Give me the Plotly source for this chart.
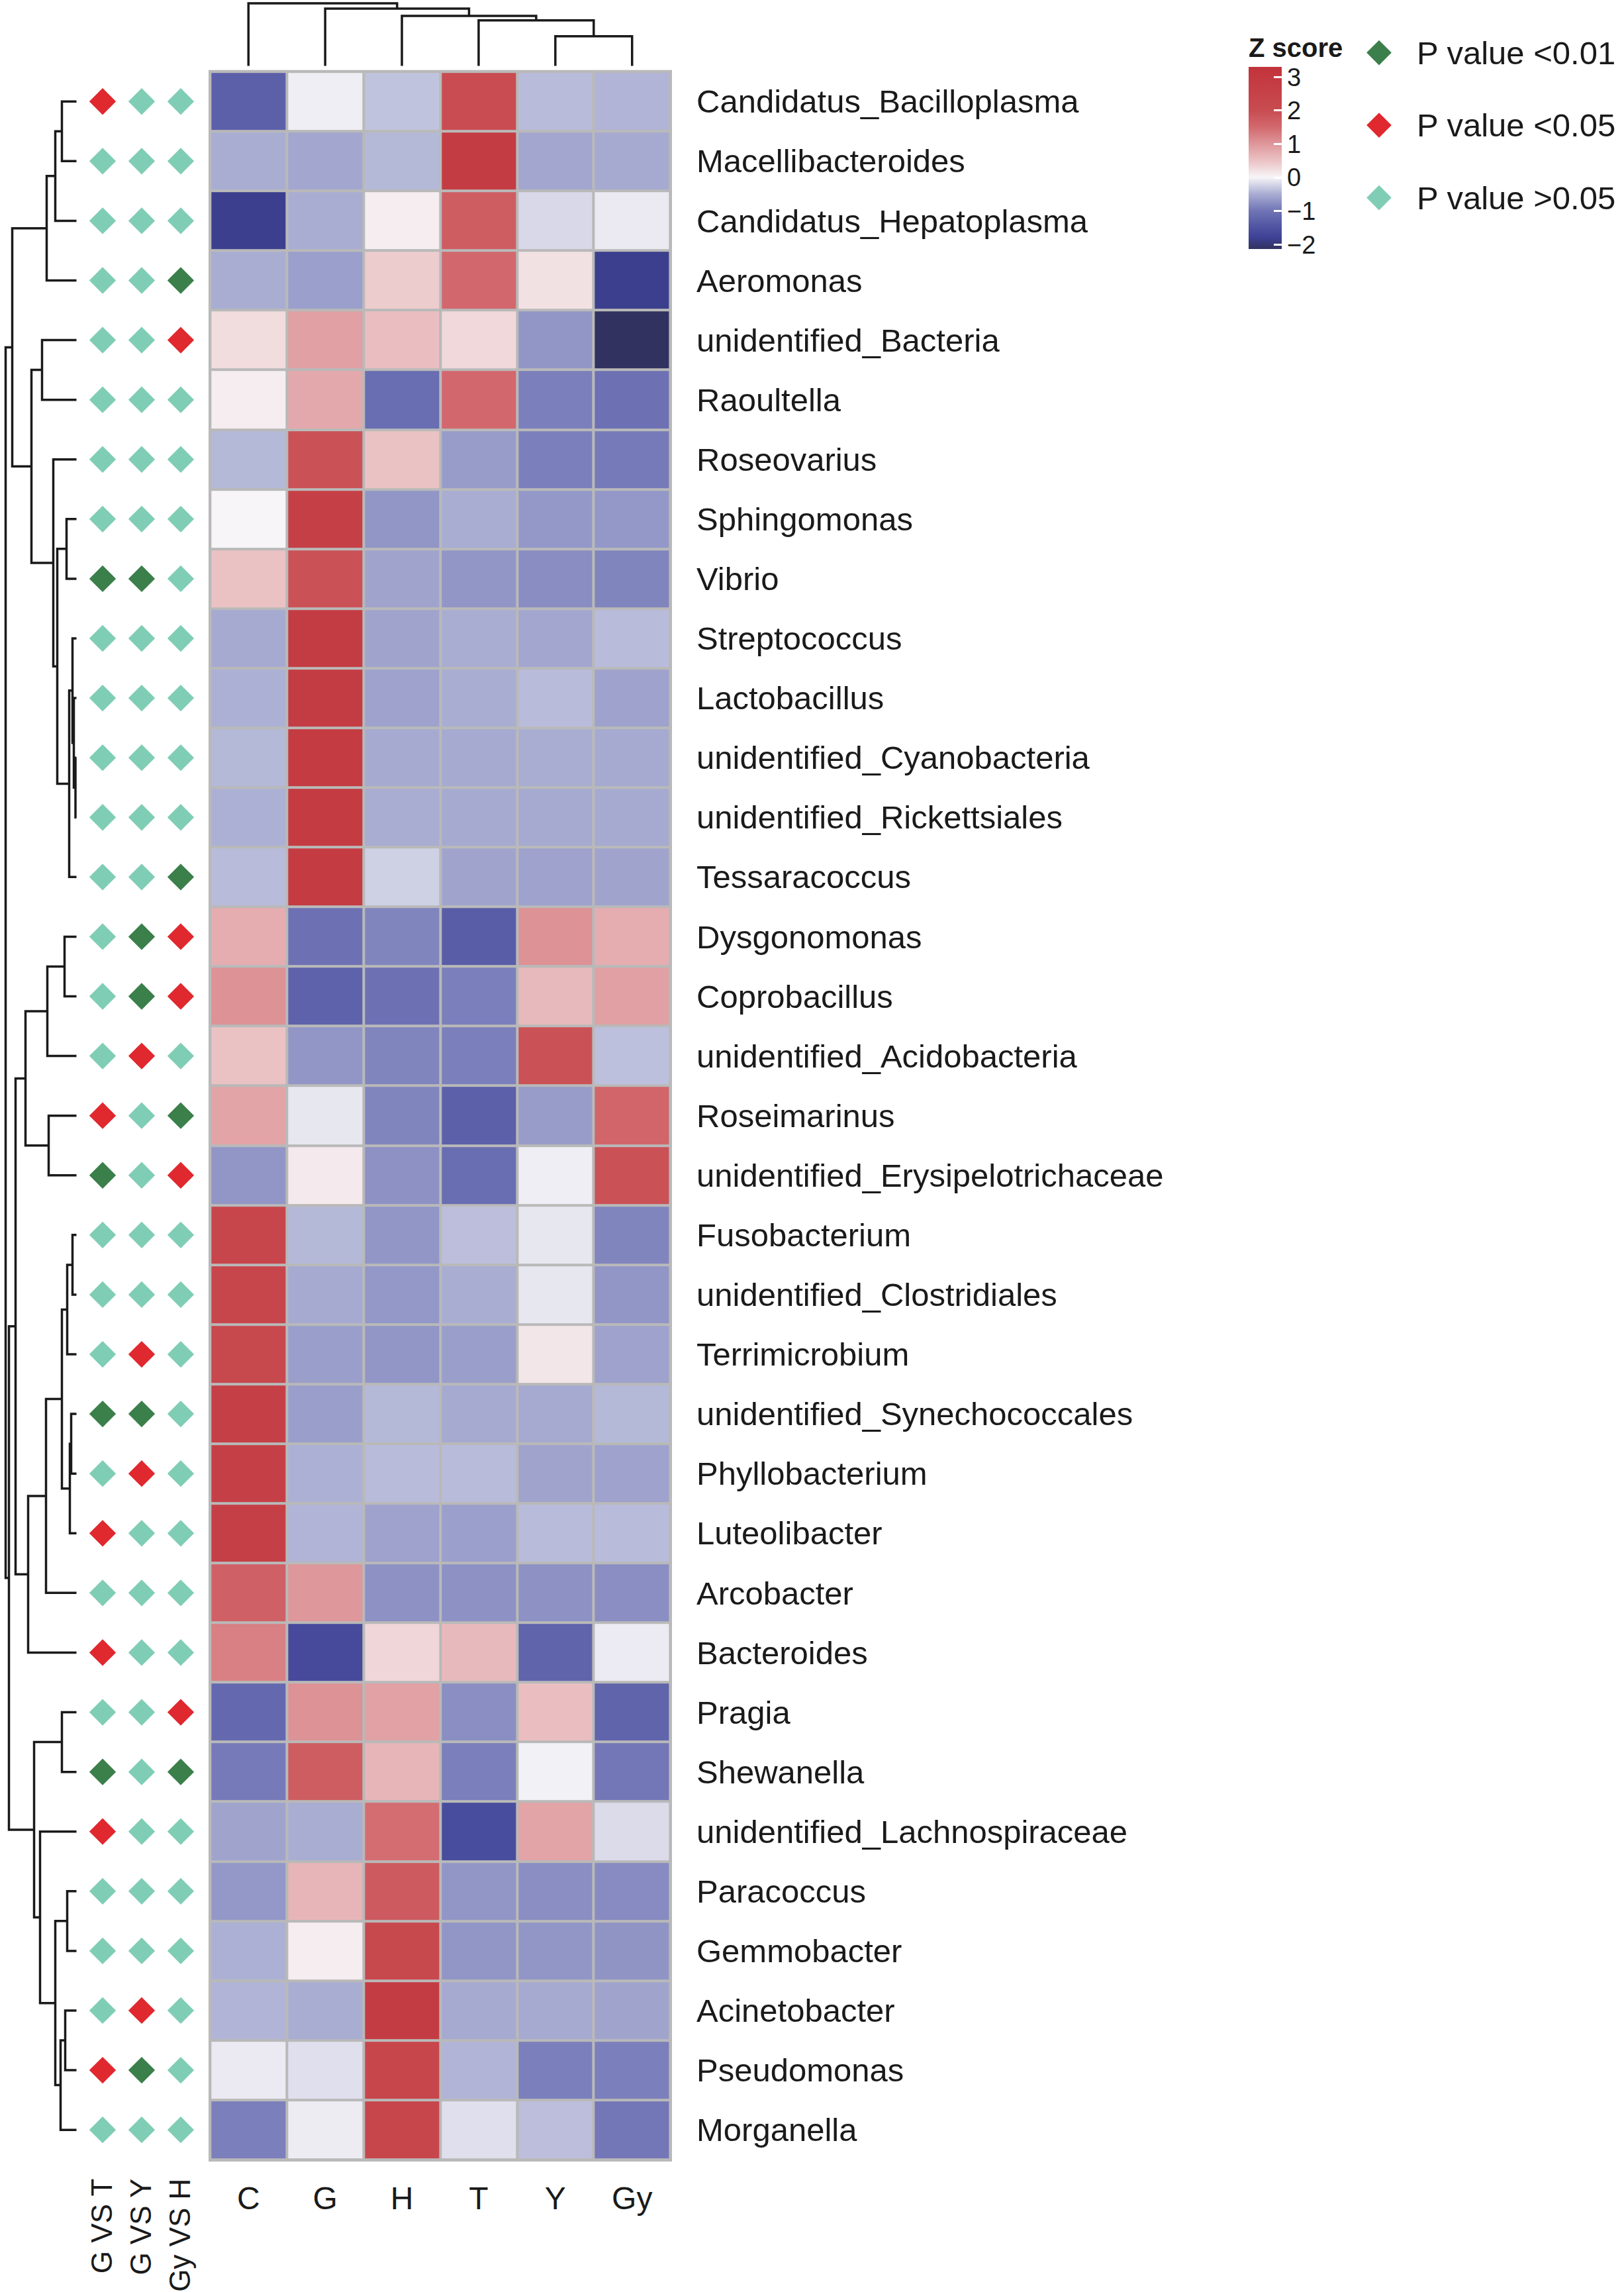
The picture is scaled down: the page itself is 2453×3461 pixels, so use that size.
import plotly.graph_objects as go

W, H = 2453, 3461

TAXA = [
    "Candidatus_Bacilloplasma", "Macellibacteroides", "Candidatus_Hepatoplasma", "Aeromonas",
    "unidentified_Bacteria", "Raoultella", "Roseovarius", "Sphingomonas", "Vibrio",
    "Streptococcus", "Lactobacillus", "unidentified_Cyanobacteria", "unidentified_Rickettsiales",
    "Tessaracoccus", "Dysgonomonas", "Coprobacillus", "unidentified_Acidobacteria",
    "Roseimarinus", "unidentified_Erysipelotrichaceae", "Fusobacterium",
    "unidentified_Clostridiales", "Terrimicrobium", "unidentified_Synechococcales",
    "Phyllobacterium", "Luteolibacter", "Arcobacter", "Bacteroides", "Pragia", "Shewanella",
    "unidentified_Lachnospiraceae", "Paracoccus", "Gemmobacter", "Acinetobacter",
    "Pseudomonas", "Morganella",
]
GROUPS = ["C", "G", "H", "T", "Y", "Gy"]

# z scores, one list per group (rows in TAXA order)
Z_C = [-1.3, -0.5, -1.85, -0.5, 0.25, 0.08, -0.42, 0.0, 0.5, -0.53, -0.48, -0.42, -0.48, -0.4,
       0.75, 1.05, 0.5, 0.85, -0.7, 2.3, 2.3, 2.2, 2.6, 2.6, 2.6, 1.65, 1.25, -1.18, -0.95,
       -0.58, -0.68, -0.48, -0.45, -0.08, -0.9]
Z_G = [-0.05, -0.55, -0.5, -0.62, 0.9, 0.8, 1.9, 2.6, 1.9, 2.8, 2.8, 2.9, 2.9, 2.9, -1.05,
       -1.28, -0.7, -0.1, 0.12, -0.42, -0.53, -0.63, -0.63, -0.48, -0.45, 1.0, -1.65, 1.05,
       1.7, -0.5, 0.65, 0.08, -0.5, -0.15, -0.06]
Z_H = [-0.35, -0.42, 0.08, 0.4, 0.55, -1.1, 0.5, -0.7, -0.58, -0.58, -0.6, -0.53, -0.5, -0.26,
       -0.85, -1.05, -0.85, -0.85, -0.75, -0.7, -0.68, -0.7, -0.42, -0.4, -0.6, -0.75, 0.3,
       0.88, 0.65, 1.45, 1.75, 2.2, 2.8, 2.3, 2.3]
Z_T = [2.0, 2.8, 1.7, 1.5, 0.28, 1.5, -0.65, -0.5, -0.7, -0.5, -0.5, -0.53, -0.53, -0.58, -1.35,
       -0.9, -0.9, -1.3, -1.1, -0.38, -0.5, -0.63, -0.53, -0.4, -0.62, -0.75, 0.6, -0.77, -0.9,
       -1.6, -0.7, -0.7, -0.53, -0.45, -0.15]
Z_Y = [-0.4, -0.55, -0.2, 0.2, -0.7, -0.9, -0.9, -0.68, -0.78, -0.55, -0.4, -0.5, -0.53, -0.6,
       1.05, 0.6, 1.9, -0.65, -0.05, -0.1, -0.1, 0.15, -0.53, -0.58, -0.4, -0.75, -1.25, 0.55,
       -0.03, 0.85, -0.77, -0.7, -0.53, -0.9, -0.38]
Z_GY = [-0.45, -0.53, -0.08, -1.85, -2.13, -1.05, -0.95, -0.68, -0.85, -0.4, -0.6, -0.53, -0.53,
        -0.58, 0.75, 0.9, -0.37, 1.55, 1.9, -0.85, -0.7, -0.6, -0.42, -0.6, -0.4, -0.77, -0.07,
        -1.25, -0.97, -0.18, -0.8, -0.72, -0.58, -0.9, -0.97]
Z_MIN, Z_MAX = -2.14, 3.29

# significance: 0 -> P<0.01, 1 -> P<0.05, 2 -> P>0.05
P_LEVELS = ["P value <0.01", "P value <0.05", "P value >0.05"]
P_COLORS = ["#3b7f4b", "#e0282f", "#80cdb5"]
P_TESTS = ["G VS T", "G VS Y", "Gy VS H"]
P_G_VS_T = [1, 2, 2, 2, 2, 2, 2, 2, 0, 2, 2, 2, 2, 2, 2, 2, 2, 1, 0, 2, 2, 2, 0, 2, 1, 2, 1,
            2, 0, 1, 2, 2, 2, 1, 2]
P_G_VS_Y = [2, 2, 2, 2, 2, 2, 2, 2, 0, 2, 2, 2, 2, 2, 0, 0, 1, 2, 2, 2, 2, 1, 0, 1, 2, 2, 2,
            2, 2, 2, 2, 2, 1, 0, 2]
P_GY_VS_H = [2, 2, 2, 0, 1, 2, 2, 2, 2, 2, 2, 2, 2, 0, 1, 1, 2, 0, 1, 2, 2, 2, 2, 2, 2, 2, 2,
             1, 0, 2, 2, 2, 2, 2, 2]

# hierarchical clustering (left id, right id, height); new node ids follow the leaves
ROW_LINKAGE = [
    [0, 1, 22], [35, 2, 32], [36, 3, 45], [4, 5, 52], [7, 8, 15], [11, 12, 1.5],
    [10, 40, 4], [9, 41, 6], [42, 13, 11], [39, 43, 29], [6, 44, 35], [38, 45, 68],
    [37, 46, 97], [14, 15, 18], [48, 16, 44], [17, 18, 42], [49, 50, 77], [19, 20, 6],
    [52, 21, 14], [22, 23, 8], [54, 24, 10], [53, 55, 22], [56, 25, 46], [57, 26, 73],
    [51, 58, 92], [27, 28, 22], [30, 31, 14], [32, 33, 17], [62, 34, 24], [61, 63, 32],
    [29, 64, 55], [60, 65, 64], [59, 66, 102], [47, 67, 107],
]
COL_LINKAGE = [[4, 5, 45], [3, 6, 69], [2, 7, 76], [1, 8, 87], [0, 9, 95]]

CS_VALUES = [-2.14, -1.8, -1.5, -1.0, -0.5, 0.0, 0.5, 1.0, 1.5, 2.0, 3.29]
CS_COLORS = ["#32325e", "#3e4195", "#4f53a1", "#7074b5", "#a9add2", "#f7f5f8",
             "#ebc2c4", "#de979b", "#d2686d", "#c84c51", "#c2333a"]

FONT = "Liberation Sans, Arial, sans-serif"
INK = "#1a1a1a"
GRID = "#b9b9b9"


def px_x(p):
    return p / W


def px_y(p):
    return 1 - p / H


def dendro_segments(linkage, n_leaves):
    pos = {i: float(i) for i in range(n_leaves)}
    hgt = {i: 0.0 for i in range(n_leaves)}
    leaf_xy, h_xy = [], []
    for k, (a, b, h) in enumerate(linkage):
        leaf_xy += [pos[a], pos[a], pos[b], pos[b], None]
        h_xy += [hgt[a], h, h, hgt[b], None]
        pos[n_leaves + k] = (pos[a] + pos[b]) / 2
        hgt[n_leaves + k] = h
    return leaf_xy, h_xy


n_rows = len(TAXA)
z_cols = [Z_C, Z_G, Z_H, Z_T, Z_Y, Z_GY]
z = [[col[i] for col in z_cols] for i in range(n_rows)]
span = Z_MAX - Z_MIN
colorscale = [[(v - Z_MIN) / span, c] for v, c in zip(CS_VALUES, CS_COLORS)]

fig = go.Figure()

fig.add_trace(go.Heatmap(
    z=z, x=list(range(len(GROUPS))), y=list(range(n_rows)),
    zmin=Z_MIN, zmax=Z_MAX, colorscale=colorscale, xgap=4, ygap=4,
    colorbar=dict(
        x=px_x(1886), xanchor="left", y=px_y(102), yanchor="top",
        len=275, lenmode="pixels", thickness=50, thicknessmode="pixels",
        outlinewidth=0, xpad=0, ypad=0,
        tickvals=[-2, -1, 0, 1, 2, 3], ticktext=["\u22122", "\u22121", "0", "1", "2", "3"],
        ticks="inside", ticklen=12, tickwidth=3, tickcolor="white",
        tickfont=dict(size=38, color=INK, family=FONT),
    ),
    hovertemplate="%{y}<br>%{x}: %{z}<extra></extra>",
))

# significance diamonds
p_cols = [P_G_VS_T, P_G_VS_Y, P_GY_VS_H]
for lvl, (name, color) in enumerate(zip(P_LEVELS, P_COLORS)):
    xs, ys = [], []
    for j, col in enumerate(p_cols):
        for i, v in enumerate(col):
            if v == lvl:
                xs.append(j)
                ys.append(i)
    fig.add_trace(go.Scatter(
        x=xs, y=ys, mode="markers", xaxis="x2", yaxis="y", name=name, showlegend=False,
        marker=dict(symbol="diamond", size=31, color=color, line=dict(width=0)),
    ))
    # legend entry
    fig.add_trace(go.Scatter(
        x=[0], y=[lvl], mode="markers", xaxis="x5", yaxis="y5", showlegend=False,
        marker=dict(symbol="diamond", size=29, color=color, line=dict(width=0)),
        hoverinfo="skip",
    ))
    fig.add_annotation(
        x=px_x(2138), xref="paper", y=lvl, yref="y5", text=name, showarrow=False,
        xanchor="left", yanchor="middle", font=dict(size=49, color=INK, family=FONT),
    )

# row dendrogram (left)
leaf_r, h_r = dendro_segments(ROW_LINKAGE, n_rows)
fig.add_trace(go.Scatter(
    x=h_r, y=leaf_r, mode="lines", xaxis="x3", yaxis="y", showlegend=False,
    line=dict(color=INK, width=3.5), hoverinfo="skip",
))

# column dendrogram (top)
leaf_c, h_c = dendro_segments(COL_LINKAGE, len(GROUPS))
fig.add_trace(go.Scatter(
    x=leaf_c, y=h_c, mode="lines", xaxis="x4", yaxis="y4", showlegend=False,
    line=dict(color=INK, width=3.5), hoverinfo="skip",
))

# grey cell borders behind the heatmap
fig.add_shape(type="rect", xref="x", yref="y", x0=-0.52, x1=len(GROUPS) - 0.48,
              y0=-0.53, y1=n_rows - 0.47, fillcolor=GRID, line=dict(width=0), layer="below")

fig.add_annotation(
    x=px_x(1884), xref="paper", y=px_y(72), yref="paper", text="<b>Z score</b>",
    showarrow=False, xanchor="left", yanchor="middle",
    font=dict(size=40, color=INK, family=FONT),
)

hidden = dict(visible=False, showgrid=False, zeroline=False)
fig.update_layout(
    width=W, height=H, margin=dict(l=0, r=0, t=0, b=0),
    paper_bgcolor="white", plot_bgcolor="rgba(0,0,0,0)",
    font=dict(family=FONT, color=INK),
    xaxis=dict(
        domain=[px_x(315), px_x(1015)], range=[-0.52, len(GROUPS) - 0.48], anchor="y",
        tickvals=list(range(len(GROUPS))), ticktext=GROUPS, ticks="", showgrid=False,
        zeroline=False, showline=False, ticklabelstandoff=23,
        tickfont=dict(size=48, color=INK, family=FONT),
    ),
    yaxis=dict(
        domain=[px_y(3280), px_y(106)], range=[n_rows - 0.47, -0.53], anchor="x",
        side="right", tickvals=list(range(n_rows)), ticktext=TAXA, ticks="",
        showgrid=False, zeroline=False, showline=False, ticklabelstandoff=36,
        tickfont=dict(size=49, color=INK, family=FONT),
    ),
    xaxis2=dict(
        domain=[px_x(125.5), px_x(302.5)], range=[-0.5, 2.5], anchor="y",
        tickvals=[0, 1, 2], ticktext=P_TESTS, tickangle=-90, ticks="", showgrid=False,
        zeroline=False, showline=False, ticklabelstandoff=16,
        tickfont=dict(size=44, color=INK, family=FONT),
    ),
    xaxis3=dict(domain=[px_x(6), px_x(119.5)], range=[109.5, -4], anchor="y", **hidden),
    xaxis4=dict(domain=[px_x(315), px_x(1015)], range=[-0.52, len(GROUPS) - 0.48],
                anchor="y4", **hidden),
    yaxis4=dict(domain=[px_y(101), px_y(3)], range=[-1, 97], anchor="x4", **hidden),
    xaxis5=dict(domain=[px_x(2043), px_x(2123)], range=[-1, 1], anchor="y5", **hidden),
    yaxis5=dict(domain=[px_y(355), px_y(25)], range=[2.5, -0.5], anchor="x5", **hidden),
)

# the page is photographed from its top-left corner, so drop the default body margin
fig.write_html("out.html", config={"displayModeBar": False},
               post_script="document.body.style.margin = '0';")
